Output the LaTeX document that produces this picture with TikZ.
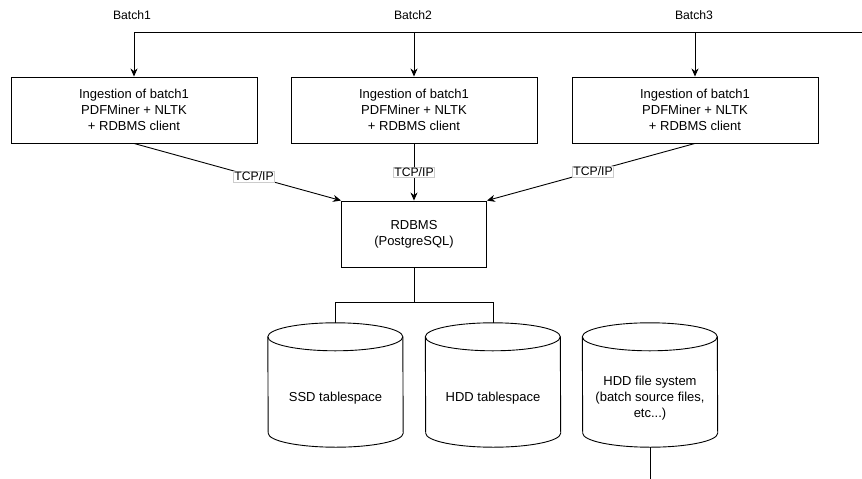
\documentclass[tikz,border=0pt]{standalone}
\usepackage{fontspec}
\setmainfont{Liberation Sans}
\usetikzlibrary{arrows.meta}

\begin{document}
\begin{tikzpicture}[x=1pt, y=-1pt,
        every node/.style={font=\fontsize{13}{15.8}\selectfont},
        small/.style={font=\fontsize{12.2}{15}\selectfont},
        line/.style={line width=0.9pt},
        conn/.style={line, -{Stealth[length=8pt,width=7pt,inset=2.5pt]}},
        ingbox/.style={draw, line width=0.9pt, minimum width=246pt, minimum height=66pt, align=center},
        dbbox/.style={draw, line width=0.9pt, minimum width=145pt, minimum height=66pt, align=center},
        cylbox/.style={inner sep=0pt, minimum width=135pt, minimum height=124pt},
        cyltext/.style={align=center},
        tcp/.style={small, fill=white, draw=gray!40, line width=0.4pt, inner sep=0.8pt}]
        \useasboundingbox (0,0) rectangle (862,479);

        % batches coming in from the right
        \coordinate (in) at (862,32);
        \node[small] (batch1) at (132,15) {Batch1};
        \node[small] (batch2) at (413,15) {Batch2};
        \node[small] (batch3) at (694,15) {Batch3};

        % ingestion workers
        \node[ingbox] (ing1) at (134,110) {Ingestion of batch1\\PDFMiner + NLTK\\+ RDBMS client};
        \node[ingbox] (ing2) at (414,110) {Ingestion of batch1\\PDFMiner + NLTK\\+ RDBMS client};
        \node[ingbox] (ing3) at (695,110) {Ingestion of batch1\\PDFMiner + NLTK\\+ RDBMS client};

        \draw[conn] (in) -| (ing1);
        \draw[conn] (in) -| (ing2);
        \draw[conn] (in) -| (ing3);

        % database server
        \node[dbbox] (db) at (414,234) {RDBMS\\(PostgreSQL)};

        \draw[conn] (ing1.south) -- node[tcp, pos=0.58] (tcp1) {TCP/IP} (db.north west);
        \draw[conn] (ing2.south) -- node[tcp] (tcp2) {TCP/IP} (db.north);
        \draw[conn] (ing3.south) -- node[tcp, pos=0.49] (tcp3) {TCP/IP} (db.north east);

        % storage
        \node[cylbox] (ssd) at (335.5,385) {};
        \node[cylbox] (hdd) at (493,385) {};
        \node[cylbox] (fs) at (650,385) {};

        \draw[line] ([yshift=-14pt]ssd.north west) arc[start angle=180, end angle=0, x radius=67.5pt, y radius=14pt] -- ([yshift=14pt]ssd.south east) arc[start angle=0, end angle=-180, x radius=67.5pt, y radius=14pt] -- cycle;
        \draw[line] ([yshift=-14pt]ssd.north west) arc[start angle=180, end angle=360, x radius=67.5pt, y radius=14pt];
        \draw[line] ([yshift=-14pt]hdd.north west) arc[start angle=180, end angle=0, x radius=67.5pt, y radius=14pt] -- ([yshift=14pt]hdd.south east) arc[start angle=0, end angle=-180, x radius=67.5pt, y radius=14pt] -- cycle;
        \draw[line] ([yshift=-14pt]hdd.north west) arc[start angle=180, end angle=360, x radius=67.5pt, y radius=14pt];
        \draw[line] ([yshift=-14pt]fs.north west) arc[start angle=180, end angle=0, x radius=67.5pt, y radius=14pt] -- ([yshift=14pt]fs.south east) arc[start angle=0, end angle=-180, x radius=67.5pt, y radius=14pt] -- cycle;
        \draw[line] ([yshift=-14pt]fs.north west) arc[start angle=180, end angle=360, x radius=67.5pt, y radius=14pt];

        \node[cyltext] (ssdtxt) at ([yshift=-13pt]ssd.center) {SSD tablespace};
        \node[cyltext] (hddtxt) at ([yshift=-13pt]hdd.center) {HDD tablespace};
        \node[cyltext] (fstxt) at ([yshift=-13pt]fs.center) {HDD file system\\(batch source files,\\etc...)};

        \draw[line] (db.south) -- ++(0,35) -| (ssd.north);
        \draw[line] (db.south) -- ++(0,35) -| (hdd.north);

        \coordinate (out) at (650,479);
        \draw[line] (fs.south) -- (out);
\end{tikzpicture}
\end{document}
